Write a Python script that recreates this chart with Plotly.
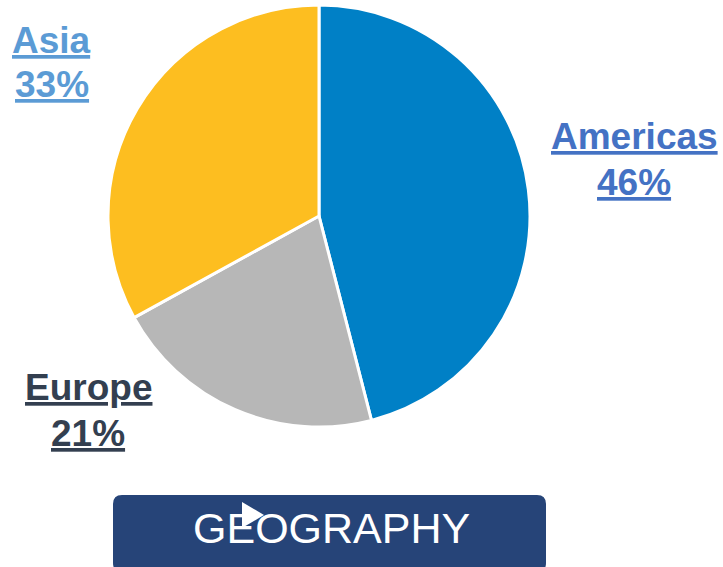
import plotly.graph_objects as go

W, H = 723, 567

regions = ["Americas", "Europe", "Asia"]
shares = [46, 21, 33]
slice_colors = ["#0080C6", "#B7B7B7", "#FDBE20"]
label_colors = ["#4472C4", "#333F50", "#5B9BD5"]
button_text = "GEOGRAPHY"

def px(x):
    return x / W

def py(y):
    return 1 - y / H

fig = go.Figure(go.Pie(
    labels=regions,
    values=shares,
    sort=False,
    direction="clockwise",
    rotation=0,
    marker=dict(colors=slice_colors, line=dict(color="white", width=3)),
    textinfo="none",
    hoverinfo="label+percent",
    showlegend=False,
    domain=dict(x=[px(108), px(530)], y=[py(427), py(5)]),
))

# label positions (pixel centres): name line, percent line
label_pos = {
    "Americas": (634, 137, 182),
    "Europe": (88, 387, 433),
    "Asia": (52, 40, 85),
}

annotations = []
for name, val, col in zip(regions, shares, label_colors):
    x, y1, y2 = label_pos[name]
    for txt, yy in ((name, y1), (f"{val}%", y2)):
        annotations.append(dict(
            x=px(x), y=py(yy), xref="paper", yref="paper",
            text=f"<b><u>{txt}</u></b>", showarrow=False,
            xanchor="center", yanchor="middle",
            font=dict(family="Liberation Sans, Arial", size=37, color=col),
        ))

annotations.append(dict(
    x=px(331), y=py(528), xref="paper", yref="paper",
    text=button_text, showarrow=False, xanchor="center", yanchor="middle",
    font=dict(family="Liberation Sans, Arial", size=43, color="white"),
))

# rounded rectangle button
x0, x1, y0, y1, r = 113, 546, 495, 572, 9
path = (f"M {px(x0+r)},{py(y0)} L {px(x1-r)},{py(y0)} "
        f"Q {px(x1)},{py(y0)} {px(x1)},{py(y0+r)} "
        f"L {px(x1)},{py(y1-r)} Q {px(x1)},{py(y1)} {px(x1-r)},{py(y1)} "
        f"L {px(x0+r)},{py(y1)} Q {px(x0)},{py(y1)} {px(x0)},{py(y1-r)} "
        f"L {px(x0)},{py(y0+r)} Q {px(x0)},{py(y0)} {px(x0+r)},{py(y0)} Z")
tri = f"M {px(242)},{py(502)} L {px(264)},{py(515)} L {px(242)},{py(528)} Z"

fig.update_layout(
    width=W, height=H,
    margin=dict(l=0, r=0, t=0, b=0),
    paper_bgcolor="white", plot_bgcolor="white",
    annotations=annotations,
    shapes=[
        dict(type="path", path=path, xref="paper", yref="paper",
             fillcolor="#264478", line=dict(width=0), layer="below"),
        dict(type="path", path=tri, xref="paper", yref="paper",
             fillcolor="white", line=dict(width=0), layer="above"),
    ],
)

fig.write_html("out.html", config={"displayModeBar": False},
               post_script="document.body.style.margin='0px';document.body.style.overflow='hidden';")
